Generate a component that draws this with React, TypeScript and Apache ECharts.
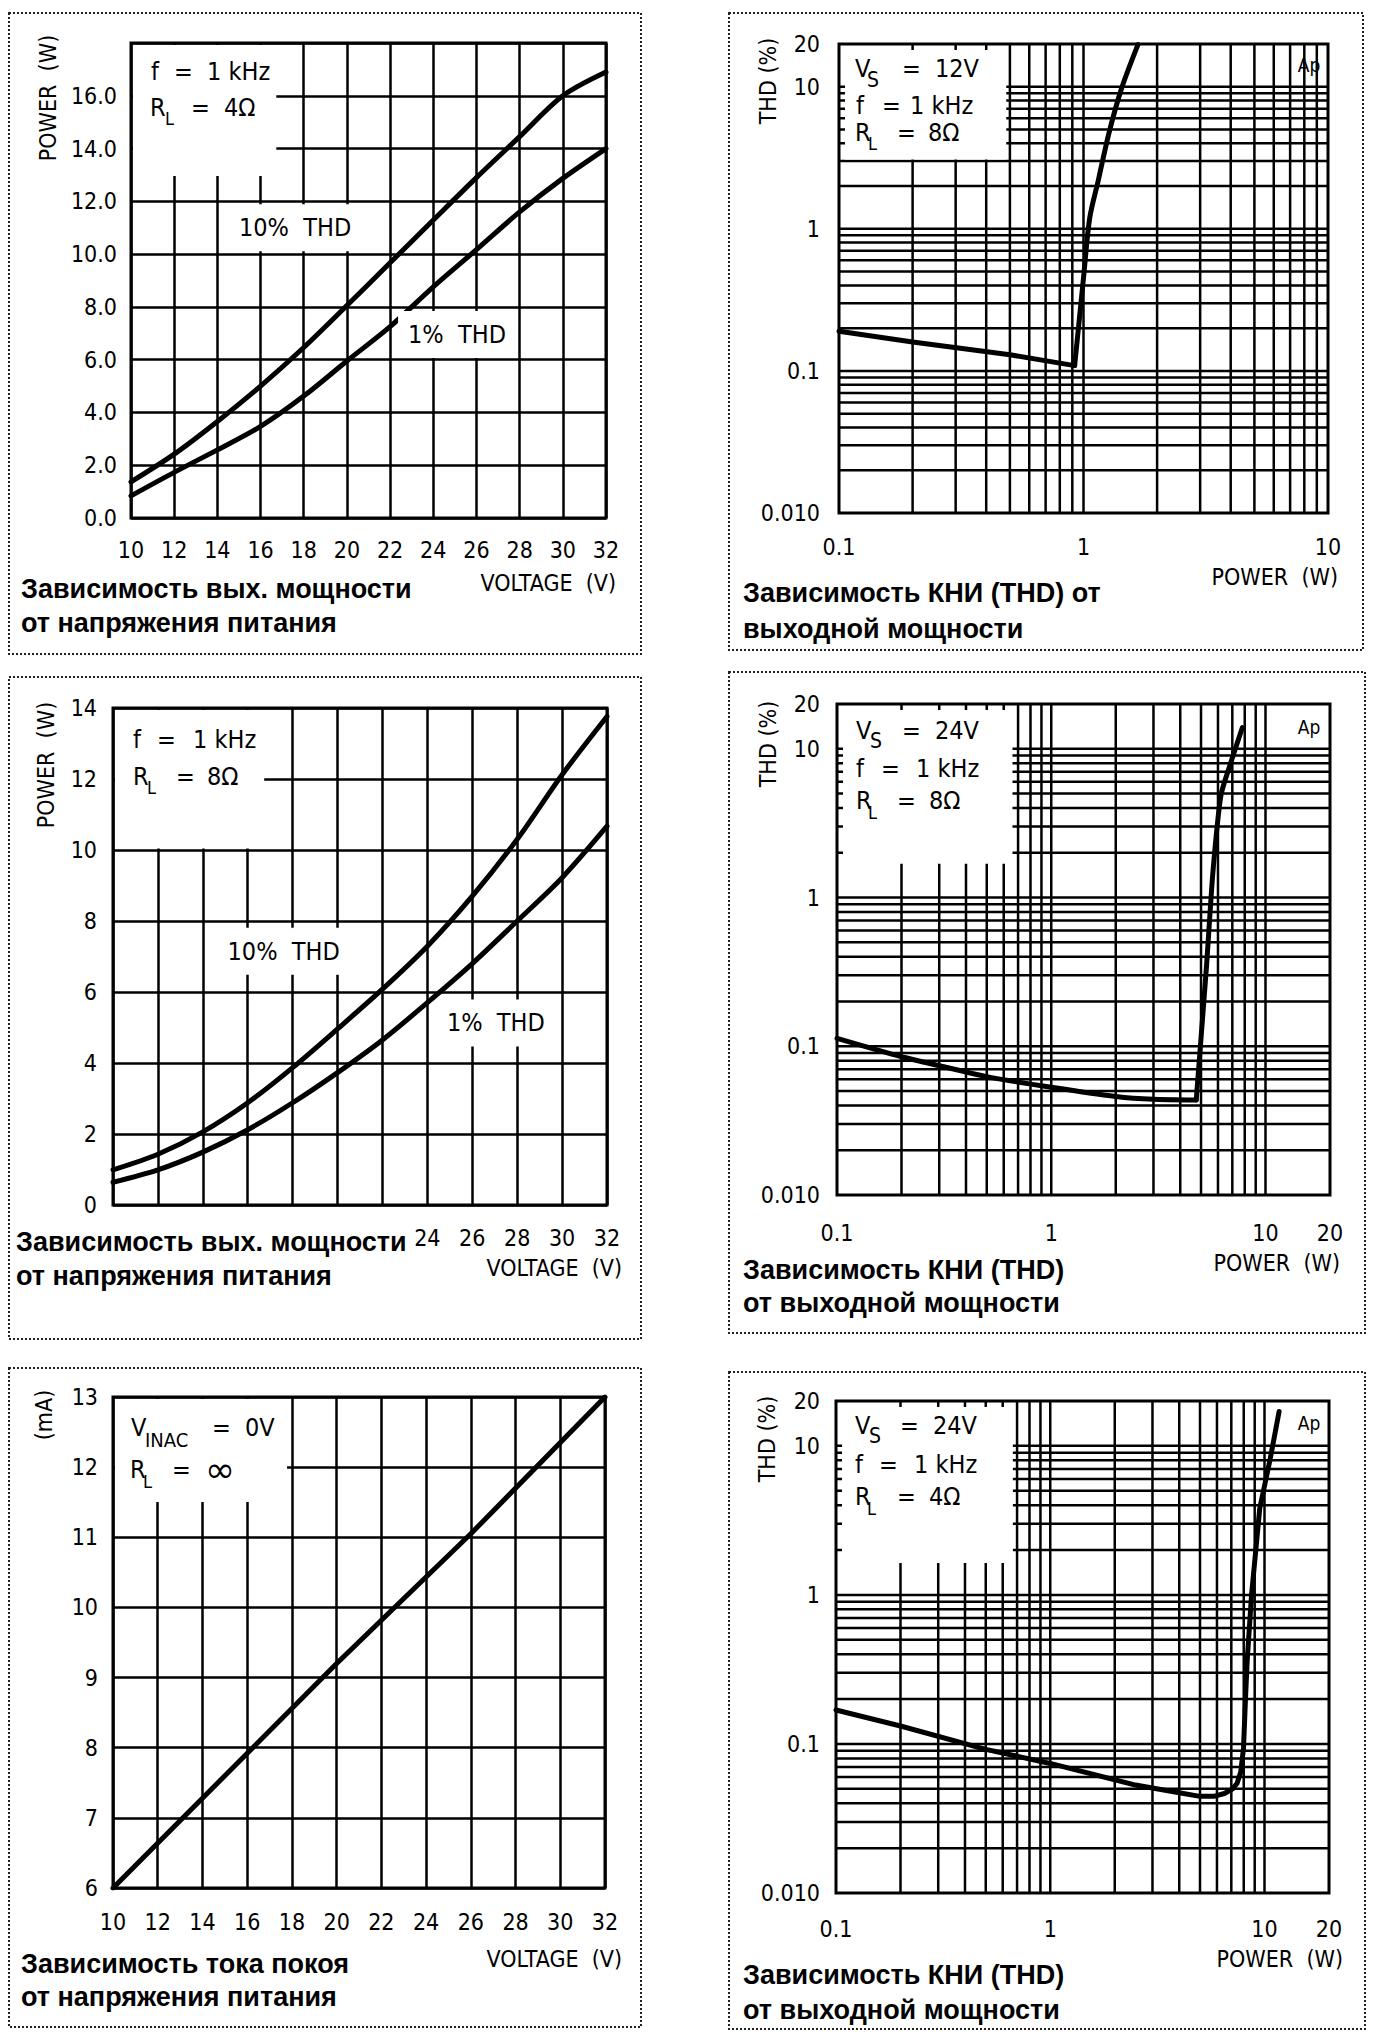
import React, { useEffect, useRef } from "react";
import * as echarts from "echarts";

const NARROW = '"Liberation Sans Narrow", "DejaVu Sans Condensed", "Roboto Condensed", Roboto, sans-serif';
const CAPTION = '"Liberation Sans", Arial, sans-serif';

// ---------------- data ----------------
const supplyVoltage = [10, 12, 14, 16, 18, 20, 22, 24, 26, 28, 30, 32];
const power4Ohm10pct = [1.37, 2.42, 3.66, 5.0, 6.46, 8.05, 9.67, 11.29, 12.9, 14.45, 16.0, 16.9];
const power4Ohm1pct = [0.84, 1.73, 2.58, 3.47, 4.62, 5.95, 7.25, 8.76, 10.17, 11.6, 12.87, 14.0];
const power8Ohm10pct = [0.99, 1.43, 2.06, 2.88, 3.87, 4.96, 6.08, 7.29, 8.7, 10.3, 12.12, 13.76];
const power8Ohm1pct = [0.64, 0.99, 1.49, 2.12, 2.88, 3.73, 4.65, 5.7, 6.8, 8.0, 9.22, 10.67];

const quiescentVoltage = [10, 20, 26, 32];
const quiescentCurrent = [6.0, 9.2, 11.05, 13.0];

// THD vs power, Vs = 12 V, RL = 8 ohm (floor part, then clipping part)
const thd12V8OhmFloorPower = [0.1, 0.2, 0.5, 0.92];
const thd12V8OhmFloorValue = [0.19, 0.16, 0.13, 0.109];
const thd12V8OhmClipPower = [0.92, 1.0, 1.06, 1.15, 1.27, 1.43, 1.67];
const thd12V8OhmClipValue = [0.109, 0.45, 1.19, 2.2, 4.7, 9.7, 19.8];

// THD vs power, Vs = 24 V, RL = 8 ohm
const thd24V8OhmFloorPower = [0.1, 0.2, 0.3, 0.5, 1, 2, 3, 4.75];
const thd24V8OhmFloorValue = [0.113, 0.085, 0.074, 0.0625, 0.053, 0.046, 0.044, 0.0435];
const thd24V8OhmClipPower = [4.75, 5.3, 5.68, 6.2, 6.95, 7.8];
const thd24V8OhmClipValue = [0.0435, 0.34, 1.47, 4.9, 8.4, 13.9];

// THD vs power, Vs = 24 V, RL = 4 ohm
const thd24V4OhmPower = [0.1, 0.2, 0.5, 1, 2.5, 4, 5, 5.8, 6.5, 7.1, 7.45, 7.75, 7.98, 8.15, 8.3, 8.7, 9.5, 10.6, 11.7];
const thd24V4OhmValue = [0.169, 0.132, 0.092, 0.074, 0.053, 0.047, 0.0445, 0.0445, 0.0465, 0.05, 0.0545, 0.065, 0.094, 0.2, 0.36, 1.0, 3.8, 8.0, 17];

// log grid lines
const logGridPower = [0.2, 0.3, 0.4, 0.5, 0.6, 0.7, 0.8, 0.9, 1, 2, 3, 4, 5, 6, 7, 8, 9, 10];
const logGridThd = [0.02, 0.03, 0.04, 0.05, 0.06, 0.07, 0.08, 0.09, 0.1, 0.2, 0.3, 0.4, 0.5, 0.6, 0.7, 0.8, 0.9, 1, 2, 3, 4, 5, 6, 7, 8, 9, 10];

// tick labels
const thdTickValues = [0.01, 0.1, 1, 10, 20];
const thdTickLabels = ["0.010", "0.1", "1", "10", "20"];
const powerTickValues = [0.1, 1, 10, 20];
const powerTickLabels = ["0.1", "1", "10", "20"];

function lookup(values: number[], labels: string[]) {
  return (v: number) => {
    for (let k = 0; k < values.length; k++) {
      if (Math.abs(Math.log10(v) - Math.log10(values[k])) < 1e-3) return labels[k];
    }
    return "";
  };
}

type Curve = { x: number[]; y: number[]; smooth?: number };
type Note = { x: number; y: number; text: string };
type Panel = {
  left: number; top: number; width: number; height: number;
  log: boolean;
  xMin: number; xMax: number; xInterval?: number;
  yMin: number; yMax: number; yInterval?: number;
  xFmt: (v: number) => string; yFmt: (v: number) => string;
  xMargin: number; yMargin: number;
  box: [number, number, number, number];
  curves: Curve[];
  notes: Note[];
};

const panels: Panel[] = [
  {
    left: 131, top: 43, width: 475, height: 475, log: false,
    xMin: 10, xMax: 32, xInterval: 2, yMin: 0, yMax: 18, yInterval: 2,
    xFmt: (v) => String(v), yFmt: (v) => (v >= 18 ? "" : v.toFixed(1)),
    xMargin: 20, yMargin: 14,
    box: [10, 16.8, 12.9, 18],
    curves: [
      { x: supplyVoltage, y: power4Ohm10pct, smooth: 0.3 },
      { x: supplyVoltage, y: power4Ohm1pct, smooth: 0.3 },
    ],
    notes: [
      { x: 17.6, y: 11.0, text: "10%  THD" },
      { x: 25.1, y: 6.95, text: "1%  THD" },
    ],
  },
  {
    left: 839, top: 44, width: 489, height: 469, log: true,
    xMin: 0.1, xMax: 10, yMin: 0.01, yMax: 20,
    xFmt: lookup(powerTickValues, powerTickLabels), yFmt: lookup(thdTickValues, thdTickLabels),
    xMargin: 22, yMargin: 19,
    box: [0.1, 0.49, 3, 20],
    curves: [
      { x: thd12V8OhmFloorPower, y: thd12V8OhmFloorValue },
      { x: thd12V8OhmClipPower, y: thd12V8OhmClipValue, smooth: 0.3 },
    ],
    notes: [],
  },
  {
    left: 113, top: 708, width: 494, height: 497, log: false,
    xMin: 10, xMax: 32, xInterval: 2, yMin: 0, yMax: 14, yInterval: 2,
    xFmt: (v) => (v >= 24 ? String(v) : ""), yFmt: (v) => String(v),
    xMargin: 21, yMargin: 16,
    box: [10, 16.8, 10, 14],
    curves: [
      { x: supplyVoltage, y: power8Ohm10pct, smooth: 0.3 },
      { x: supplyVoltage, y: power8Ohm1pct, smooth: 0.3 },
    ],
    notes: [
      { x: 17.6, y: 7.15, text: "10%  THD" },
      { x: 27.05, y: 5.13, text: "1%  THD" },
    ],
  },
  {
    left: 837, top: 704, width: 493, height: 491, log: true,
    xMin: 0.1, xMax: 20, yMin: 0.01, yMax: 20,
    xFmt: lookup(powerTickValues, powerTickLabels), yFmt: lookup(thdTickValues, thdTickLabels),
    xMargin: 26, yMargin: 17,
    box: [0.1, 0.67, 1.65, 20],
    curves: [
      { x: thd24V8OhmFloorPower, y: thd24V8OhmFloorValue, smooth: 0.2 },
      { x: thd24V8OhmClipPower, y: thd24V8OhmClipValue, smooth: 0.2 },
    ],
    notes: [],
  },
  {
    left: 113, top: 1397, width: 492, height: 491, log: false,
    xMin: 10, xMax: 32, xInterval: 2, yMin: 6, yMax: 13, yInterval: 1,
    xFmt: (v) => String(v), yFmt: (v) => String(v),
    xMargin: 22, yMargin: 15,
    box: [10, 17.85, 11.48, 13],
    curves: [{ x: quiescentVoltage, y: quiescentCurrent }],
    notes: [],
  },
  {
    left: 836, top: 1401, width: 493, height: 492, log: true,
    xMin: 0.1, xMax: 20, yMin: 0.01, yMax: 20,
    xFmt: lookup(powerTickValues, powerTickLabels), yFmt: lookup(thdTickValues, thdTickLabels),
    xMargin: 24, yMargin: 16,
    box: [0.1, 0.68, 1.6, 20],
    curves: [{ x: thd24V4OhmPower, y: thd24V4OhmValue }],
    notes: [],
  },
];

// --------------- graphic helpers (annotation text / frames) ---------------
const TZ = 100;
function txt(x: number, y: number, text: string, size: number, extra: any = {}, family = NARROW, weight = "normal") {
  return {
    type: "text", x, y, z: TZ, silent: true,
    style: {
      text, font: `${weight} ${size}px ${family}`, fill: "#000",
      align: "left", verticalAlign: "middle", ...extra,
    },
  };
}
function vtxt(x: number, y: number, text: string, size: number) {
  return {
    type: "text", x, y, z: TZ, silent: true, rotation: Math.PI / 2,
    style: { text, font: `${size}px ${NARROW}`, fill: "#000", align: "center", verticalAlign: "middle" },
  };
}
function frame(x1: number, y1: number, x2: number, y2: number) {
  return {
    type: "rect", z: TZ, silent: true,
    shape: { x: x1, y: y1, width: x2 - x1, height: y2 - y1 },
    style: { fill: "none", stroke: "#222", lineWidth: 2, lineDash: [2, 2] },
  };
}

const LEG = 25;
function buildGraphic() {
  const g: any[] = [];
  // frames
  g.push(frame(9, 13, 641, 654));
  g.push(frame(729, 13, 1363, 650));
  g.push(frame(9, 677, 641, 1339));
  g.push(frame(729, 672, 1365, 1333));
  g.push(frame(9, 1368, 641, 2027));
  g.push(frame(729, 1372, 1365, 2029));

  // captions
  const cap = (x: number, y: number, t: string) => g.push(txt(x, y, t, 27, {}, CAPTION, "bold"));
  cap(21, 589, "Зависимость вых. мощности");
  cap(21, 623, "от напряжения питания");
  cap(743, 593, "Зависимость КНИ (THD) от");
  cap(743, 629, "выходной мощности");
  cap(16, 1242, "Зависимость вых. мощности");
  cap(16, 1276, "от напряжения питания");
  cap(743, 1270, "Зависимость КНИ (THD)");
  cap(743, 1303, "от выходной мощности");
  cap(21, 1964, "Зависимость тока покоя");
  cap(21, 1997, "от напряжения питания");
  cap(743, 1975, "Зависимость КНИ (THD)");
  cap(743, 2010, "от выходной мощности");

  // axis names
  g.push(txt(616, 583, "VOLTAGE  (V)", 23, { align: "right" }));
  g.push(txt(622, 1268, "VOLTAGE  (V)", 23, { align: "right" }));
  g.push(txt(622, 1959, "VOLTAGE  (V)", 23, { align: "right" }));
  g.push(txt(1338, 577, "POWER  (W)", 23, { align: "right" }));
  g.push(txt(1340, 1263, "POWER  (W)", 23, { align: "right" }));
  g.push(txt(1343, 1959, "POWER  (W)", 23, { align: "right" }));
  g.push(vtxt(48, 98, "POWER  (W)", 23));
  g.push(vtxt(46, 765, "POWER  (W)", 23));
  g.push(vtxt(44, 1415, "(mA)", 23));
  g.push(vtxt(768, 81, "THD (%)", 23));
  g.push(vtxt(768, 744, "THD (%)", 23));
  g.push(vtxt(767, 1439, "THD (%)", 23));

  // "Ap"
  g.push(txt(1309, 65, "Ap", 19, { align: "center" }));
  g.push(txt(1309, 727, "Ap", 19, { align: "center" }));
  g.push(txt(1309, 1423, "Ap", 19, { align: "center" }));

  // legends
  // panel 1
  g.push(txt(151, 71, "f", LEG), txt(174, 71, "=", LEG), txt(207, 71, "1 kHz", LEG));
  g.push(txt(150, 107, "R", LEG), txt(165, 118, "L", 18), txt(191, 107, "=", LEG), txt(224, 107, "4Ω", LEG));
  // panel 2
  g.push(txt(855, 68, "V", LEG), txt(867, 80, "S", 21), txt(902, 68, "=", LEG), txt(935, 68, "12V", LEG));
  g.push(txt(856, 105, "f", LEG), txt(882, 105, "=", LEG), txt(910, 105, "1 kHz", LEG));
  g.push(txt(855, 132, "R", LEG), txt(868, 143, "L", 18), txt(897, 132, "=", LEG), txt(928, 132, "8Ω", LEG));
  // panel 3
  g.push(txt(133, 739, "f", LEG), txt(157, 739, "=", LEG), txt(193, 739, "1 kHz", LEG));
  g.push(txt(133, 776, "R", LEG), txt(147, 787, "L", 18), txt(176, 776, "=", LEG), txt(207, 776, "8Ω", LEG));
  // panel 4
  g.push(txt(856, 730, "V", LEG), txt(870, 741, "S", 21), txt(902, 730, "=", LEG), txt(935, 730, "24V", LEG));
  g.push(txt(856, 768, "f", LEG), txt(881, 768, "=", LEG), txt(916, 768, "1 kHz", LEG));
  g.push(txt(856, 800, "R", LEG), txt(868, 812, "L", 18), txt(897, 800, "=", LEG), txt(929, 800, "8Ω", LEG));
  // panel 5
  g.push(txt(131, 1427, "V", LEG), txt(145, 1440, "INAC", 20), txt(212, 1427, "=", LEG), txt(245, 1427, "0V", LEG));
  g.push(txt(130, 1469, "R", LEG), txt(143, 1481, "L", 18), txt(172, 1469, "=", LEG), txt(205, 1469, "∞", 36, {}, '"DejaVu Sans", sans-serif'));
  // panel 6
  g.push(txt(855, 1425, "V", LEG), txt(869, 1436, "S", 21), txt(900, 1425, "=", LEG), txt(933, 1425, "24V", LEG));
  g.push(txt(855, 1464, "f", LEG), txt(879, 1464, "=", LEG), txt(914, 1464, "1 kHz", LEG));
  g.push(txt(855, 1496, "R", LEG), txt(867, 1508, "L", 18), txt(897, 1496, "=", LEG), txt(929, 1496, "4Ω", LEG));
  return g;
}

function buildOption() {
  const grids: any[] = [];
  const xAxes: any[] = [];
  const yAxes: any[] = [];
  const series: any[] = [];
  const GRID_W = 2.5;

  panels.forEach((p, i) => {
    grids.push({
      left: p.left, top: p.top, width: p.width, height: p.height,
      show: true, borderColor: "#000", borderWidth: 3, backgroundColor: "#fff",
    });
    const labelStyle = { color: "#000", fontFamily: NARROW, fontSize: 23, lineHeight: 23 };
    const xa: any = {
      gridIndex: i, type: p.log ? "log" : "value", min: p.xMin, max: p.xMax,
      axisLine: { show: false }, axisTick: { show: false },
      splitLine: { show: !p.log, lineStyle: { color: "#000", width: GRID_W } },
      axisLabel: { ...labelStyle, margin: p.xMargin, formatter: p.xFmt, showMinLabel: true, showMaxLabel: true },
    };
    const ya: any = {
      gridIndex: i, type: p.log ? "log" : "value", min: p.yMin, max: p.yMax,
      axisLine: { show: false }, axisTick: { show: false },
      splitLine: { show: !p.log, lineStyle: { color: "#000", width: GRID_W } },
      axisLabel: { ...labelStyle, margin: p.yMargin, formatter: p.yFmt, showMinLabel: true, showMaxLabel: true },
    };
    if (p.log) { xa.logBase = 10; ya.logBase = 10; }
    if (p.xInterval) xa.interval = p.xInterval;
    if (p.yInterval) ya.interval = p.yInterval;
    xAxes.push(xa);
    yAxes.push(ya);

    if (p.log) {
      // vertical minor grid
      series.push({
        type: "custom", xAxisIndex: i, yAxisIndex: i, z: 1, silent: true,
        data: logGridPower.filter((v) => v > p.xMin && v < p.xMax).map((v) => [v, p.yMin]),
        renderItem: (_params: any, api: any) => {
          const a = api.coord([api.value(0), p.yMin]);
          const b = api.coord([api.value(0), p.yMax]);
          return { type: "line", shape: { x1: a[0], y1: a[1], x2: b[0], y2: b[1] }, style: { stroke: "#000", lineWidth: GRID_W } };
        },
      });
      // horizontal minor grid
      series.push({
        type: "custom", xAxisIndex: i, yAxisIndex: i, z: 1, silent: true,
        data: logGridThd.filter((v) => v > p.yMin && v < p.yMax).map((v) => [p.xMin, v]),
        renderItem: (_params: any, api: any) => {
          const a = api.coord([p.xMin, api.value(1)]);
          const b = api.coord([p.xMax, api.value(1)]);
          return { type: "line", shape: { x1: a[0], y1: a[1], x2: b[0], y2: b[1] }, style: { stroke: "#000", lineWidth: GRID_W } };
        },
      });
    }

    // white legend box covering the grid
    const inset = p.log ? 6 : 2;
    series.push({
      type: "custom", xAxisIndex: i, yAxisIndex: i, z: 3, silent: true,
      data: [[p.box[0], p.box[2], p.box[1], p.box[3]]],
      encode: { x: [0, 2], y: [1, 3] },
      renderItem: (_params: any, api: any) => {
        const tl = api.coord([api.value(0), api.value(3)]);
        const br = api.coord([api.value(2), api.value(1)]);
        return {
          type: "rect",
          shape: { x: tl[0] + inset, y: tl[1] + inset, width: br[0] - tl[0] - inset - 1.5, height: br[1] - tl[1] - inset - 1.5 },
          style: { fill: "#fff" },
        };
      },
    });

    // curves
    p.curves.forEach((c) => {
      series.push({
        type: "line", xAxisIndex: i, yAxisIndex: i, z: 4, silent: true,
        data: c.x.map((x, k) => [x, c.y[k]]),
        showSymbol: false, symbol: "none", smooth: c.smooth || false, clip: true,
        lineStyle: { color: "#000", width: 5, cap: "round", join: "round" },
      });
    });

    // curve labels
    if (p.notes.length) {
      series.push({
        type: "custom", xAxisIndex: i, yAxisIndex: i, z: 5, silent: true,
        data: p.notes.map((n) => [n.x, n.y]),
        renderItem: (params: any, api: any) => {
          const pt = api.coord([api.value(0), api.value(1)]);
          const n = p.notes[params.dataIndex];
          return {
            type: "text", x: pt[0], y: pt[1],
            style: {
              text: n.text, font: `25px ${NARROW}`, fill: "#000",
              align: "center", verticalAlign: "middle",
              backgroundColor: "#fff", padding: [11, 10],
            },
          };
        },
      });
    }
  });

  return {
    animation: false,
    backgroundColor: "#fff",
    grid: grids,
    xAxis: xAxes,
    yAxis: yAxes,
    series,
    graphic: buildGraphic(),
  };
}

export default function App() {
  const ref = useRef<HTMLDivElement>(null);
  useEffect(() => {
    if (!ref.current) return;
    const chart = echarts.init(ref.current, null, { renderer: "svg", width: 1375, height: 2039 });
    chart.setOption(buildOption() as any);
    return () => chart.dispose();
  }, []);
  return (
    <div
      ref={ref}
      style={{ position: "absolute", left: 0, top: 0, width: 1375, height: 2039, background: "#fff" }}
    />
  );
}
